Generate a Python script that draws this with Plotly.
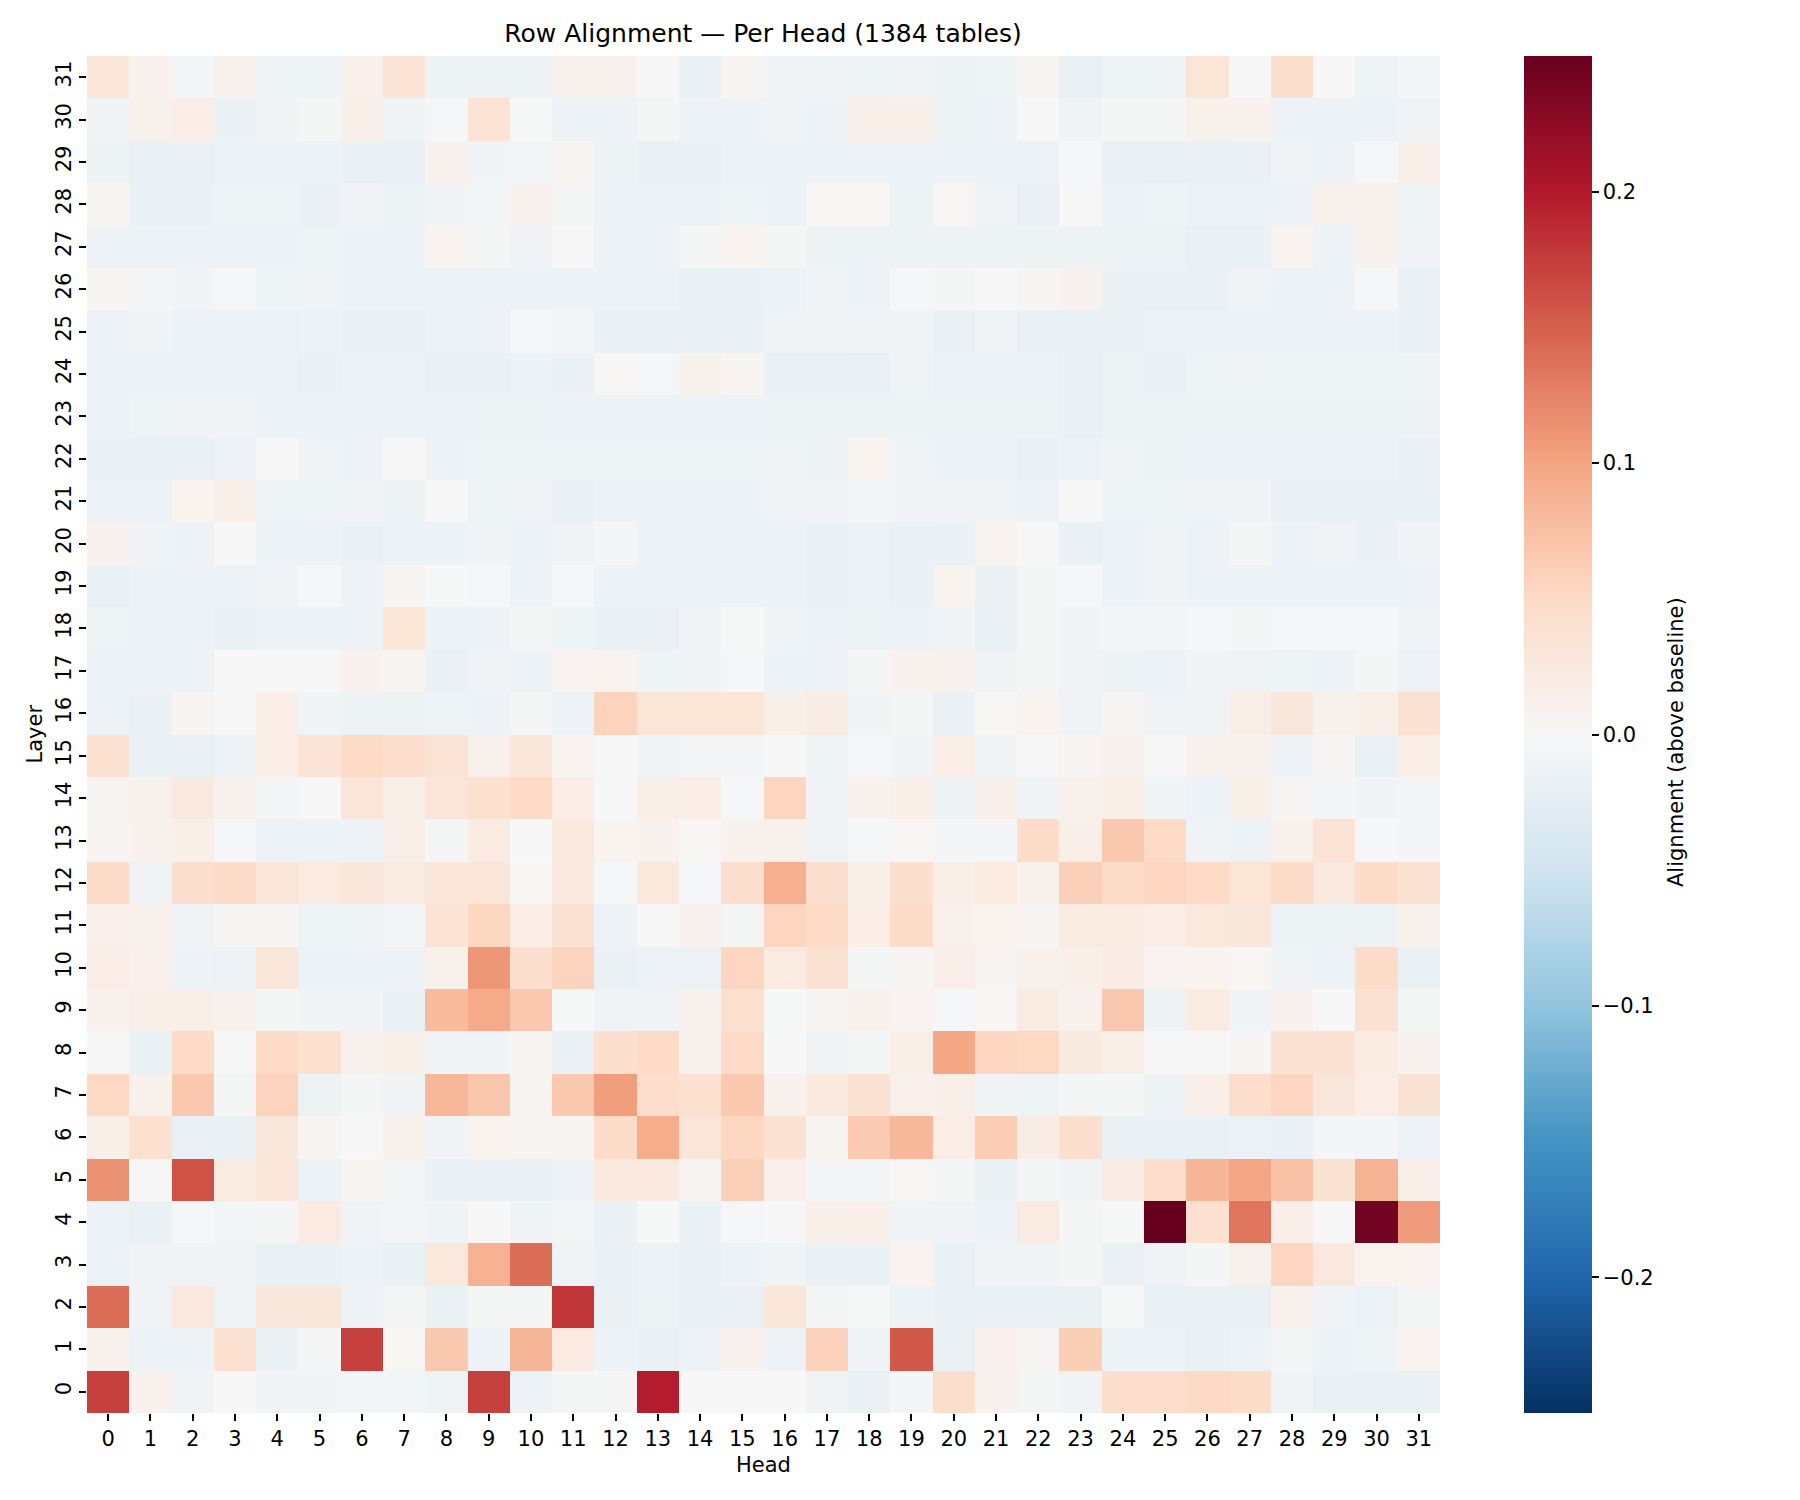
import plotly.graph_objects as go

heads = list(range(32))
layers = list(range(32))

L31 = [0.03, 0.01, -0.005, 0.012, -0.012, -0.012, 0.013, 0.035, -0.013, -0.013, -0.013, 0.01, 0.01, 0.0, -0.018, 0.005, -0.008, -0.008, -0.012, -0.008, -0.013, -0.012, 0.003, -0.02, -0.012, -0.012, 0.033, 0.0, 0.045, 0.0, -0.012, -0.005]
L30 = [-0.01, 0.012, 0.018, -0.018, -0.008, -0.004, 0.015, -0.01, -0.003, 0.035, -0.001, -0.014, -0.014, -0.004, -0.014, -0.014, -0.01, -0.014, 0.015, 0.015, -0.013, -0.015, 0.0, -0.01, -0.004, -0.004, 0.012, 0.01, -0.014, -0.014, -0.014, -0.01]
L29 = [-0.013, -0.018, -0.018, -0.014, -0.014, -0.014, -0.018, -0.018, 0.01, -0.009, -0.006, 0.005, -0.013, -0.017, -0.017, -0.014, -0.014, -0.014, -0.014, -0.014, -0.014, -0.014, -0.014, -0.003, -0.018, -0.018, -0.018, -0.018, -0.01, -0.014, -0.003, 0.015]
L28 = [0.006, -0.018, -0.018, -0.012, -0.012, -0.017, -0.008, -0.013, -0.009, -0.006, 0.01, -0.004, -0.014, -0.014, -0.014, -0.012, -0.014, 0.002, 0.002, -0.013, 0.002, -0.01, -0.018, 0.0, -0.014, -0.012, -0.014, -0.014, -0.014, 0.012, 0.012, -0.012]
L27 = [-0.014, -0.014, -0.014, -0.014, -0.014, -0.012, -0.014, -0.014, 0.008, -0.004, -0.01, 0.0, -0.014, -0.014, -0.004, 0.008, -0.004, -0.013, -0.013, -0.013, -0.013, -0.013, -0.013, -0.013, -0.013, -0.013, -0.018, -0.018, 0.008, -0.014, 0.01, -0.01]
L26 = [0.005, -0.005, -0.009, -0.002, -0.012, -0.008, -0.014, -0.014, -0.014, -0.014, -0.014, -0.014, -0.014, -0.014, -0.017, -0.017, -0.014, -0.009, -0.014, -0.003, -0.004, 0.0, 0.003, 0.01, -0.018, -0.018, -0.018, -0.01, -0.014, -0.014, -0.003, -0.018]
L25 = [-0.014, -0.008, -0.016, -0.014, -0.016, -0.014, -0.017, -0.017, -0.015, -0.015, -0.003, -0.005, -0.017, -0.017, -0.017, -0.017, -0.01, -0.01, -0.008, -0.01, -0.018, -0.01, -0.018, -0.018, -0.018, -0.014, -0.014, -0.014, -0.014, -0.014, -0.014, -0.018]
L24 = [-0.014, -0.014, -0.014, -0.014, -0.014, -0.017, -0.014, -0.014, -0.018, -0.018, -0.014, -0.017, 0.002, -0.002, 0.012, 0.006, -0.018, -0.018, -0.018, -0.01, -0.016, -0.014, -0.014, -0.017, -0.013, -0.017, -0.012, -0.008, -0.012, -0.012, -0.012, -0.012]
L23 = [-0.016, -0.012, -0.011, -0.008, -0.014, -0.014, -0.014, -0.014, -0.014, -0.013, -0.013, -0.014, -0.014, -0.014, -0.014, -0.014, -0.013, -0.013, -0.013, -0.013, -0.013, -0.013, -0.013, -0.017, -0.013, -0.013, -0.013, -0.013, -0.013, -0.013, -0.013, -0.013]
L22 = [-0.017, -0.017, -0.017, -0.014, 0.0, -0.01, -0.014, 0.0, -0.014, -0.012, -0.012, -0.012, -0.012, -0.012, -0.012, -0.012, -0.011, -0.013, 0.008, -0.009, -0.014, -0.014, -0.017, -0.014, -0.01, -0.013, -0.014, -0.014, -0.014, -0.014, -0.014, -0.018]
L21 = [-0.014, -0.014, 0.008, 0.015, -0.012, -0.012, -0.009, -0.013, 0.0, -0.012, -0.01, -0.017, -0.014, -0.014, -0.014, -0.014, -0.01, -0.01, -0.007, -0.008, -0.01, -0.01, -0.015, 0.0, -0.012, -0.012, -0.01, -0.01, -0.018, -0.018, -0.018, -0.018]
L20 = [0.01, -0.008, -0.015, 0.0, -0.014, -0.014, -0.017, -0.014, -0.014, -0.008, -0.014, -0.01, -0.005, -0.014, -0.014, -0.014, -0.014, -0.018, -0.014, -0.018, -0.018, 0.008, 0.0, -0.017, -0.014, -0.011, -0.014, -0.004, -0.014, -0.01, -0.017, -0.009]
L19 = [-0.018, -0.014, -0.014, -0.014, -0.01, -0.003, -0.014, 0.005, -0.001, -0.003, -0.014, -0.002, -0.014, -0.014, -0.014, -0.014, -0.014, -0.017, -0.014, -0.017, 0.008, -0.018, -0.004, -0.002, -0.014, -0.01, -0.014, -0.014, -0.014, -0.014, -0.014, -0.014]
L18 = [-0.012, -0.014, -0.014, -0.017, -0.014, -0.014, -0.014, 0.033, -0.014, -0.014, -0.004, -0.012, -0.017, -0.017, -0.01, -0.001, -0.008, -0.014, -0.013, -0.015, -0.011, -0.018, -0.004, -0.008, -0.005, -0.005, -0.002, -0.004, -0.002, -0.002, -0.002, -0.01]
L17 = [-0.014, -0.014, -0.014, 0.0, 0.0, 0.0, 0.01, 0.005, -0.017, -0.01, -0.014, 0.007, 0.008, -0.012, -0.01, -0.003, -0.014, -0.014, -0.004, 0.01, 0.01, -0.01, -0.004, -0.01, -0.013, -0.016, -0.009, -0.011, -0.012, -0.015, -0.004, -0.016]
L16 = [-0.014, -0.017, 0.006, 0.0, 0.018, -0.009, -0.013, -0.013, -0.012, -0.014, -0.004, -0.014, 0.057, 0.033, 0.033, 0.033, 0.015, 0.02, -0.009, -0.004, -0.018, 0.002, 0.008, -0.01, 0.004, -0.011, -0.011, 0.017, 0.028, 0.012, 0.015, 0.037]
L15 = [0.04, -0.018, -0.018, -0.014, 0.018, 0.035, 0.05, 0.046, 0.035, 0.012, 0.03, 0.008, 0.0, -0.01, -0.005, -0.005, 0.0, -0.012, -0.003, -0.009, 0.018, -0.008, 0.0, 0.005, 0.01, 0.0, 0.01, 0.01, -0.014, 0.004, -0.018, 0.018]
L14 = [0.005, 0.012, 0.025, 0.012, -0.007, 0.0, 0.032, 0.015, 0.032, 0.04, 0.05, 0.018, 0.0, 0.016, 0.018, -0.002, 0.055, -0.008, 0.01, 0.016, -0.013, 0.014, -0.01, 0.012, 0.016, -0.008, -0.014, 0.015, 0.004, -0.005, -0.008, -0.005]
L13 = [0.005, 0.01, 0.015, -0.002, -0.014, -0.014, -0.014, 0.017, -0.004, 0.022, 0.0, 0.025, 0.008, 0.01, 0.002, 0.01, 0.012, -0.01, -0.002, 0.002, -0.005, -0.005, 0.047, 0.015, 0.067, 0.05, -0.01, -0.014, 0.012, 0.035, -0.002, -0.005]
L12 = [0.048, -0.01, 0.042, 0.048, 0.03, 0.024, 0.028, 0.022, 0.03, 0.03, 0.002, 0.025, -0.003, 0.027, -0.003, 0.042, 0.09, 0.043, 0.015, 0.042, 0.017, 0.024, 0.012, 0.06, 0.047, 0.055, 0.05, 0.033, 0.047, 0.025, 0.048, 0.037]
L11 = [0.013, 0.012, -0.01, 0.003, 0.004, -0.012, -0.012, -0.005, 0.035, 0.053, 0.018, 0.037, -0.014, 0.0, 0.01, -0.004, 0.055, 0.05, 0.018, 0.047, 0.012, 0.008, 0.005, 0.022, 0.022, 0.018, 0.027, 0.028, -0.013, -0.013, -0.013, 0.012]
L10 = [0.018, 0.013, -0.015, -0.016, 0.03, -0.014, -0.014, -0.014, 0.012, 0.11, 0.042, 0.057, -0.018, -0.016, -0.016, 0.055, 0.022, 0.038, -0.004, 0.006, 0.017, 0.005, 0.012, 0.015, 0.02, 0.007, 0.008, 0.002, -0.01, -0.014, 0.048, -0.018]
L09 = [0.01, 0.016, 0.016, 0.012, -0.004, -0.009, -0.009, -0.018, 0.08, 0.095, 0.068, -0.001, -0.01, -0.01, 0.01, 0.04, -0.001, 0.005, 0.012, 0.007, -0.003, 0.002, 0.022, 0.01, 0.068, -0.013, 0.022, -0.009, 0.01, 0.0, 0.038, -0.004]
L08 = [0.0, -0.018, 0.05, 0.0, 0.05, 0.04, 0.012, 0.015, -0.009, -0.009, 0.005, -0.018, 0.043, 0.05, 0.01, 0.05, 0.0, -0.008, -0.004, 0.015, 0.097, 0.055, 0.052, 0.025, 0.016, 0.0, 0.0, 0.003, 0.037, 0.037, 0.021, 0.009]
L07 = [0.052, 0.012, 0.068, -0.004, 0.057, -0.013, -0.004, -0.008, 0.083, 0.07, 0.005, 0.067, 0.105, 0.046, 0.04, 0.067, 0.01, 0.025, 0.037, 0.013, 0.015, -0.008, -0.012, -0.004, -0.004, -0.013, 0.016, 0.046, 0.055, 0.028, 0.018, 0.036]
L06 = [0.016, 0.04, -0.018, -0.018, 0.028, 0.005, 0.0, 0.012, -0.009, 0.008, 0.005, 0.005, 0.047, 0.093, 0.032, 0.053, 0.037, 0.006, 0.065, 0.082, 0.018, 0.063, 0.02, 0.043, -0.018, -0.018, -0.018, -0.016, -0.018, -0.005, -0.005, -0.014]
L05 = [0.113, 0.0, 0.16, 0.022, 0.03, -0.014, 0.005, -0.007, -0.018, -0.018, -0.018, -0.014, 0.025, 0.025, 0.006, 0.06, 0.013, -0.005, -0.007, 0.002, -0.004, -0.018, -0.004, -0.01, 0.02, 0.046, 0.084, 0.098, 0.074, 0.036, 0.087, 0.015]
L04 = [-0.014, -0.018, -0.002, -0.006, -0.004, 0.023, -0.01, -0.007, -0.012, 0.0, -0.009, -0.006, -0.018, -0.001, -0.017, -0.003, 0.0, 0.015, 0.016, -0.008, -0.01, -0.014, 0.022, -0.004, -0.001, 0.27, 0.04, 0.135, 0.016, 0.0, 0.243, 0.107]
L03 = [-0.016, -0.011, -0.011, -0.011, -0.018, -0.018, -0.014, -0.018, 0.027, 0.088, 0.14, -0.011, -0.017, -0.014, -0.017, -0.014, -0.01, -0.018, -0.018, 0.008, -0.018, -0.008, -0.008, -0.004, -0.018, -0.011, -0.004, 0.012, 0.055, 0.026, 0.008, 0.008]
L02 = [0.14, -0.01, 0.026, -0.01, 0.028, 0.028, -0.014, -0.004, -0.018, -0.004, -0.004, 0.178, -0.018, -0.013, -0.018, -0.018, 0.03, -0.004, -0.001, -0.014, -0.018, -0.018, -0.018, -0.018, -0.001, -0.017, -0.018, -0.018, 0.012, -0.009, -0.016, -0.004]
L01 = [0.01, -0.014, -0.014, 0.04, -0.017, -0.004, 0.172, 0.002, 0.068, -0.014, 0.085, 0.023, -0.015, -0.017, -0.014, 0.01, -0.014, 0.058, -0.009, 0.155, -0.017, 0.013, 0.003, 0.062, -0.014, -0.014, -0.017, -0.014, -0.004, -0.014, -0.012, 0.008]
L00 = [0.172, 0.01, -0.01, 0.0, -0.008, -0.008, -0.006, -0.006, -0.012, 0.172, -0.014, -0.004, -0.004, 0.197, 0.0, 0.0, 0.0, -0.01, -0.017, -0.005, 0.045, 0.01, -0.004, -0.011, 0.046, 0.046, 0.051, 0.049, -0.01, -0.017, -0.017, -0.017]

z = [L00, L01, L02, L03, L04, L05, L06, L07, L08, L09, L10, L11, L12, L13, L14, L15,
     L16, L17, L18, L19, L20, L21, L22, L23, L24, L25, L26, L27, L28, L29, L30, L31]

cbar_ticks = [-0.2, -0.1, 0.0, 0.1, 0.2]
cbar_ticktext = ["\u22120.2", "\u22120.1", "0.0", "0.1", "0.2"]

rdbu_r = ["#053061", "#2166ac", "#4393c3", "#92c5de", "#d1e5f0", "#f7f7f7",
          "#fddbc7", "#f4a582", "#d6604d", "#b2182b", "#67001f"]
colorscale = [[i / 10, c] for i, c in enumerate(rdbu_r)]

FONT = "DejaVu Sans"

fig = go.Figure(go.Heatmap(
    z=z, x=heads, y=layers,
    colorscale=colorscale, zmin=-0.25, zmax=0.25,
    xgap=0, ygap=0,
    colorbar=dict(
        x=1.062, xanchor="left", xpad=0, ypad=0,
        y=0.5, yanchor="middle", len=1.0, lenmode="fraction",
        thickness=68, thicknessmode="pixels",
        outlinewidth=0,
        tickvals=cbar_ticks, ticktext=cbar_ticktext,
        ticks="outside", ticklen=7, tickwidth=1.6, tickcolor="#000",
        tickfont=dict(family=FONT, size=21, color="#000"),
    ),
))

fig.update_layout(
    width=1800, height=1500,
    margin=dict(l=87, r=360, t=56, b=87),
    paper_bgcolor="white", plot_bgcolor="white",
    font=dict(family=FONT, size=21, color="#000"),
    title=dict(text="Row Alignment \u2014 Per Head (1384 tables)",
               x=763 / 1800, xanchor="center", xref="container",
               y=1 - 33 / 1500, yanchor="middle", yref="container",
               font=dict(family=FONT, size=25, color="#000")),
    xaxis=dict(range=[-0.5, 31.5], tickvals=heads, ticktext=[str(h) for h in heads],
               ticks="outside", ticklen=7, tickwidth=1.6, tickcolor="#000",
               showgrid=False, zeroline=False, showline=False,
               tickfont=dict(family=FONT, size=21, color="#000")),
    yaxis=dict(range=[-0.5, 31.5], tickvals=layers, ticktext=[str(l) for l in layers],
               ticks="outside", ticklen=7, tickwidth=1.6, tickcolor="#000",
               tickangle=-90,
               showgrid=False, zeroline=False, showline=False,
               tickfont=dict(family=FONT, size=21, color="#000")),
    annotations=[
        dict(text="Head", xref="paper", yref="paper", x=0.5, y=(1413 - 1465) / 1357,
             xanchor="center", yanchor="middle", showarrow=False,
             font=dict(family=FONT, size=21, color="#000")),
        dict(text="Layer", xref="paper", yref="paper", x=(34 - 87) / 1353, y=0.5,
             xanchor="center", yanchor="middle", showarrow=False, textangle=-90,
             font=dict(family=FONT, size=21, color="#000")),
        dict(text="Alignment (above baseline)", xref="paper", yref="paper",
             x=(1676 - 87) / 1353, y=(1413 - 742) / 1357,
             xanchor="center", yanchor="middle", showarrow=False, textangle=-90,
             font=dict(family=FONT, size=21, color="#000")),
    ],
)

fig.write_html("out.html")
